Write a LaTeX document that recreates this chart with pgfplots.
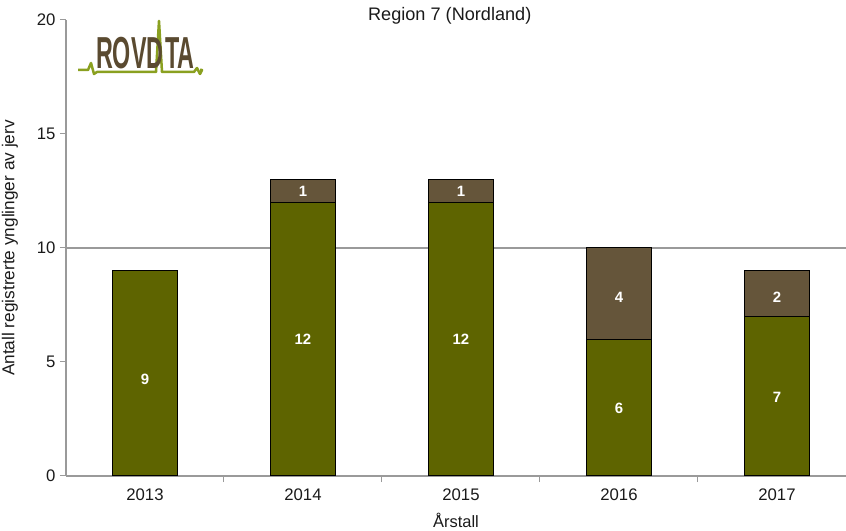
\documentclass[border=0pt]{standalone}
\usepackage{pgfplots}
\pgfplotsset{compat=1.18}
\usepackage{fontspec}
\setmainfont{Liberation Sans}
\definecolor{bargreen}{HTML}{5E6400}
\definecolor{barbrown}{HTML}{65553A}
\definecolor{axgray}{HTML}{9A9A9A}
\definecolor{logobrown}{HTML}{5A4A30}
\definecolor{logogreen}{HTML}{8AA020}
\definecolor{txt}{HTML}{1A1A1A}
\begin{document}
\begin{tikzpicture}
\path[use as bounding box] (-66bp,-55bp) rectangle (780bp,476bp);
\begin{axis}[
  scale only axis, width=780bp, height=456bp,
  xmin=-0.5, xmax=4.437, ymin=0, ymax=20,
  axis lines*=left,
  axis line style={axgray, line width=1.5bp, -},
  xtick={0,1,2,3,4},
  xticklabels={2013,2014,2015,2016,2017},
  major x tick style={draw=none},
  minor xtick={0.5,1.5,2.5,3.5},
  minor x tick style={axgray, line width=1bp},
  ytick={0,5,10,15,20},
  y tick style={axgray, line width=1bp},
  tick align=outside,
  major tick length=6bp, minor tick length=6bp,
  extra y ticks={10}, extra y tick labels={},
  extra y tick style={grid=major, major grid style={axgray, line width=1.5bp}, tick style={draw=none}},
  ticklabel style={font=\fontsize{16.8}{18}\selectfont, text=txt},
  /pgf/number format/assume math mode=true,
  xticklabel style={yshift=-3bp},
  yticklabel style={xshift=-1bp},
  ylabel={Antall registrerte ynglinger av jerv},
  ylabel style={at={(axis description cs:-0.057,0.5)}, anchor=south, font=\fontsize{17.3}{19}\selectfont, text=txt},
  xlabel={Årstall},
  xlabel style={at={(axis description cs:0.5,-0.0965)}, anchor=center, font=\fontsize{16.5}{18}\selectfont, text=txt},
  title={Region 7 (Nordland)},
  title style={at={(axis description cs:0.492,0.995)}, anchor=center, font=\fontsize{18.2}{20}\selectfont, text=txt},
  ybar stacked, bar width=0.41,
  clip=false,
]
\addplot[fill=bargreen, draw=black, line width=1bp] coordinates {(0,9) (1,12) (2,12) (3,6) (4,7)};
\addplot[fill=barbrown, draw=black, line width=1bp] coordinates {(0,0) (1,1) (2,1) (3,4) (4,2)};
\end{axis}
\begin{axis}[
  scale only axis, width=780bp, height=456bp,
  xmin=-0.5, xmax=4.437, ymin=0, ymax=20,
  hide axis,
  nodes near coords, point meta=explicit symbolic,
  every node near coord/.append style={anchor=center, text=white, font=\bfseries\fontsize{15}{17}\selectfont},
]
\addplot[draw=none, mark=none, only marks, mark size=0] coordinates {
  (0,4.25) [9] (1,6) [12] (2,6) [12] (3,2.95) [6] (4,3.45) [7]
  (1,12.5) [1] (2,12.5) [1] (3,7.85) [4] (4,7.85) [2]};
\end{axis}
% logo
\draw[logogreen, line width=2.5bp, line join=round]
  (12bp,406bp) -- (22bp,406bp) -- (25bp,413bp) -- (28bp,402bp) -- (31bp,404bp) -- (90bp,404bp)
  -- (93bp,455bp) -- (96bp,404bp) -- (128bp,404bp) -- (131bp,408bp) -- (134bp,402bp) -- (136bp,406bp) -- (134bp,406bp);
\node[anchor=south west, inner sep=0pt, xscale=0.52, text=logobrown, font=\bfseries\fontsize{45}{45}\selectfont] at (30bp,407bp) {ROVD};
\node[anchor=south west, inner sep=0pt, xscale=0.52, text=logobrown, font=\bfseries\fontsize{45}{45}\selectfont] at (99bp,407bp) {TA};
\end{tikzpicture}
\end{document}
